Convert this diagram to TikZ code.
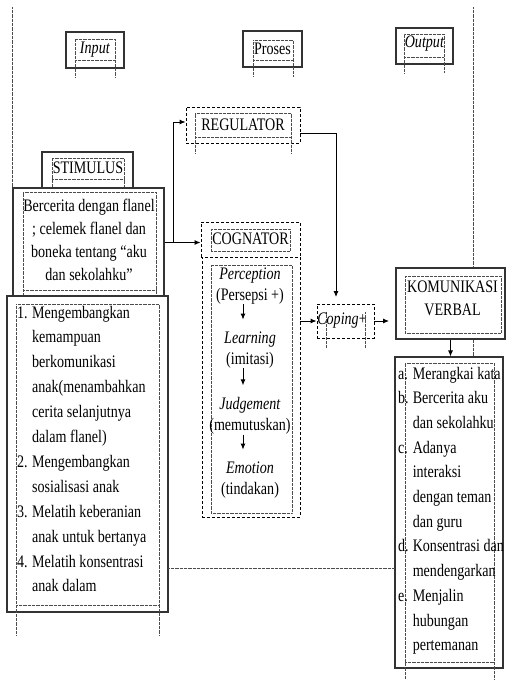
\documentclass[tikz,border=0pt]{standalone}
\usepackage{fontspec}
\setmainfont[FakeStretch=0.8]{Liberation Serif}
\usetikzlibrary{arrows.meta}
\begin{document}
\begin{tikzpicture}[x=1pt,y=-1pt,
  every node/.style={font=\fontsize{17.6}{23}\selectfont, inner sep=0pt},
  sbox/.style={draw=black!80, line width=1.1pt, fill=white, inner sep=0pt},
  dbox/.style={draw=black, line width=0.9pt, dash pattern=on 3pt off 2pt, fill=white, inner sep=0pt},
  dots/.style={draw=black!70, line width=0.5pt, dash pattern=on 0.5pt off 0.8pt},
  arr/.style={draw=black, line width=0.9pt, -{Latex[length=6pt,width=5pt]}}]
\useasboundingbox (0,0) rectangle (506,680);
\fill[white] (0,0) rectangle (506,680);
% page guide lines
\draw[dots] (12,7) -- (12,296);
\draw[dots] (473,7) -- (473,668);
% headers
\node[sbox,minimum width=58,minimum height=36] (inbox) at (95,50) {\textit{Input}};
\draw[dots] (75,77) -- (75,39) -- (115,39) -- (115,77) (75,60) -- (115,60);
\node[sbox,minimum width=59,minimum height=36] (probox) at (272.5,49) {Proses};
\draw[dots] (253,76) -- (253,40) -- (293,40) -- (293,76) (253,60) -- (293,60);
\node[sbox,minimum width=57,minimum height=36] (outbox) at (424.5,46) {};
\node (outtext) at (424.5,44) {\textit{Output}};
\draw[dots] (404,73) -- (404,34) -- (444,34) -- (444,73) (404,57) -- (444,57);
% regulator
\node[dbox,minimum width=114,minimum height=36] (regulator) at (243,125) {REGULATOR};
\draw[dots] (195,153) -- (195,113) -- (291,113) -- (291,153) (195,137) -- (291,137);
% stimulus
\node[sbox,minimum width=91,minimum height=43] (stimulus) at (87.5,173.5) {};
\node (stimlabel) at (88,168) {STIMULUS};
\draw[dots] (52,188) -- (52,158) -- (124,158) -- (124,188) (52,179) -- (124,179);
\node[sbox,minimum width=151,minimum height=109] (stimtext) at (88.5,242.5) {};
\draw[dots] (23,297) -- (23,192) -- (156,192) -- (156,297) (23,290) -- (156,290);
\node[align=center] (stimlines) at (89,240) {Bercerita dengan flanel\\; celemek flanel dan\\boneka tentang “aku\\dan sekolahku”};
% left list
\node[sbox,minimum width=161,minimum height=316] (leftlist) at (87.5,454) {};
\draw[dots] (16,635) -- (16,304) -- (159,304) -- (159,635) (16,605) -- (159,605);
\node[anchor=base west,font=\fontsize{17.6}{24.9}\selectfont] (leftlines) at (17,318)
 {\begin{tabular}[t]{@{}l@{\hspace{4.4pt}}l@{}}
 1. & Mengembangkan\\
    & kemampuan\\
    & berkomunikasi\\
    & anak(menambahkan\\
    & cerita selanjutnya\\
    & dalam flanel)\\
 2. & Mengembangkan\\
    & sosialisasi anak\\
 3. & Melatih keberanian\\
    & anak untuk bertanya\\
 4. & Melatih konsentrasi\\
    & anak dalam
 \end{tabular}};
% cognator
\node[dbox,minimum width=99,minimum height=35] (cognator) at (250.5,239.5) {};
\draw[dots] (211,229) rectangle (290,251);
\node (coglabel) at (250.5,238.5) {COGNATOR};
\node[dbox,minimum width=98,minimum height=260] (cogproc) at (251,387) {};
\draw[dots] (211,265) rectangle (292,513);
\node[align=center,font=\fontsize{17.6}{21}\selectfont] (p1) at (250,286) {\textit{Perception}\\(Persepsi +)};
\node[align=center,font=\fontsize{17.6}{21}\selectfont] (p2) at (250,350) {\textit{Learning}\\(imitasi)};
\node[align=center,font=\fontsize{17.6}{21}\selectfont] (p3) at (250,416) {\textit{Judgement}\\(memutuskan)};
\node[align=center,font=\fontsize{17.6}{21}\selectfont] (p4) at (250,480) {\textit{Emotion}\\(tindakan)};
\draw[arr] ([xshift=-7pt]p1.south) -- ([xshift=-7pt,yshift=12pt]p2.north);
\draw[arr] ([xshift=-7pt]p2.south) -- ([xshift=-7pt,yshift=12pt]p3.north);
\draw[arr] ([xshift=-7pt]p3.south) -- ([xshift=-7pt,yshift=12pt]p4.north);
% coping
\node[dbox,minimum width=57,minimum height=34] (coping) at (345.5,321) {};
\draw[dots] (326,312) -- (326,348) (365,312) -- (365,348);
\node (copinglabel) at (342,321) {\textit{Coping}+};
% komunikasi
\node[sbox,minimum width=109,minimum height=71] (komunikasi) at (450.5,303.5) {};
\draw[dots] (405,276) rectangle (501,333);
\node[align=center] (komlabel) at (452.5,298.5) {KOMUNIKASI\\VERBAL};
% output list
\node[sbox,minimum width=108,minimum height=311] (outlist) at (449,512.5) {};
\draw[dots] (405,680) -- (405,363) -- (494,363) -- (494,680) (405,662) -- (494,662);
\node[anchor=base west,font=\fontsize{17.6}{24.7}\selectfont] (outlines) at (398,379)
 {\begin{tabular}[t]{@{}l@{\hspace{4pt}}l@{}}
 a. & Merangkai kata\\
 b. & Bercerita aku\\
    & dan sekolahku\\
 c. & Adanya\\
    & interaksi\\
    & dengan teman\\
    & dan guru\\
 d. & Konsentrasi dan\\
    & mendengarkan\\
 e. & Menjalin\\
    & hubungan\\
    & pertemanan
 \end{tabular}};
% connectors
\draw[arr] (stimtext.east) -- ++(9,0) |- ([yshift=3pt]regulator.west);
\draw[arr] (stimtext.east) -- (stimtext.east -| cognator.west);
\coordinate (cpin) at (336,297);
\draw[arr] ([yshift=-8pt]regulator.east) -| (cpin);
\draw[arr] (cogproc.east |- coping.west) -- (coping.west);
\coordinate (kin) at (389,321);
\draw[arr] (coping.east) -- (kin);
\draw[arr] (komunikasi.south) -- (komunikasi.south |- outlist.north);
\coordinate (dla) at (168,568);
\draw[dots] (dla) -- (dla -| outlist.west);
\end{tikzpicture}
\end{document}
